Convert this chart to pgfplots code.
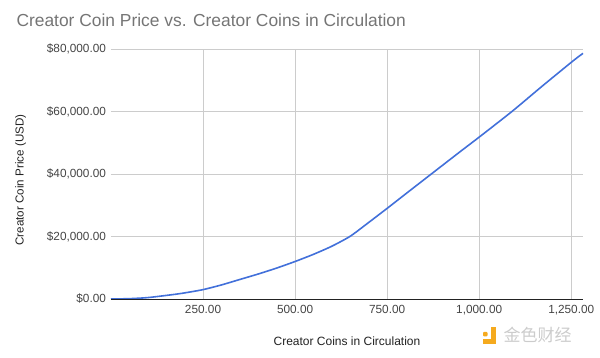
\documentclass[border=0pt]{standalone}
\usepackage{pgfplots}
\pgfplotsset{compat=1.18}
\usepackage{fontspec}
\setmainfont{Liberation Sans}
\newfontfamily\cjk{Noto Sans CJK SC}
\definecolor{linec}{RGB}{66,112,218}
\definecolor{gridc}{RGB}{204,204,204}
\definecolor{titlec}{RGB}{117,117,117}
\definecolor{tickc}{RGB}{68,68,68}
\definecolor{labc}{RGB}{34,34,34}
\definecolor{wmc}{RGB}{245,170,30}
\begin{document}
\begin{tikzpicture}
\path[use as bounding box] (-111pt,-59pt) rectangle (489pt,299pt);
\begin{axis}[
  scale only axis,
  width=472pt, height=250pt,
  at={(0,0)}, anchor=south west,
  xmin=0, xmax=1282, ymin=0, ymax=80000,
  axis line style={draw=none},
  scaled x ticks=false, scaled y ticks=false,
  xtick={250,500,750,1000,1250},
  xticklabels={250.00,500.00,750.00,{1,000.00},{1,250.00}},
  ytick={0,20000,40000,60000,80000},
  yticklabels={{\$0.00},{\$20,000.00},{\$40,000.00},{\$60,000.00},{\$80,000.00}},
  major tick length=0pt,
  grid=major,
  major grid style={draw=gridc, line width=0.8pt},
  tick label style={font=\fontsize{11.8}{13}\selectfont, text=tickc},
  yticklabel style={xshift=-1.5pt},
  xticklabel style={yshift=-2.5pt},
  clip=false,
]
\addplot[draw=linec, line width=1.6pt, smooth, tension=0.4] coordinates {
(0,0) (50,110) (100,450) (166,1380) (200,1950) (250,3000) (300,4500) (350,6250) (400,8000) (450,9900) (500,12000) (550,14300) (600,16900) (650,20100) (700,24500) (750,29000) (800,33600) (870,40000) (950,47300) (1000,51800) (1090,60100) (1170,68000) (1255,76200) (1282,78600)
};
\draw[draw=labc, line width=0.9pt] (axis cs:0,0) -- (axis cs:1282,0);
\end{axis}
\node[anchor=center, text=labc, font=\fontsize{12}{14}\selectfont] at (236pt,-42.7pt) {Creator Coins in Circulation};
\node[anchor=center, rotate=90, text=labc, font=\fontsize{11.6}{14}\selectfont] at (-90.3pt,119pt) {Creator Coin Price (USD)};
\node[anchor=west, text=titlec, font=\fontsize{17.4}{20}\selectfont] at (-98pt,279pt) {Creator Coin Price vs. Creator Coins in Circulation};
\fill[wmc, rounded corners=1pt] (372pt,-33pt) rectangle (376.5pt,-37.5pt);
\fill[wmc] (380pt,-28pt) rectangle (385pt,-45pt);
\fill[wmc] (372pt,-40pt) rectangle (385pt,-45pt);
\node[anchor=west, text=gridc, font=\cjk\fontsize{17}{19}\selectfont] at (389pt,-36pt) {金色财经};
\end{tikzpicture}
\end{document}
